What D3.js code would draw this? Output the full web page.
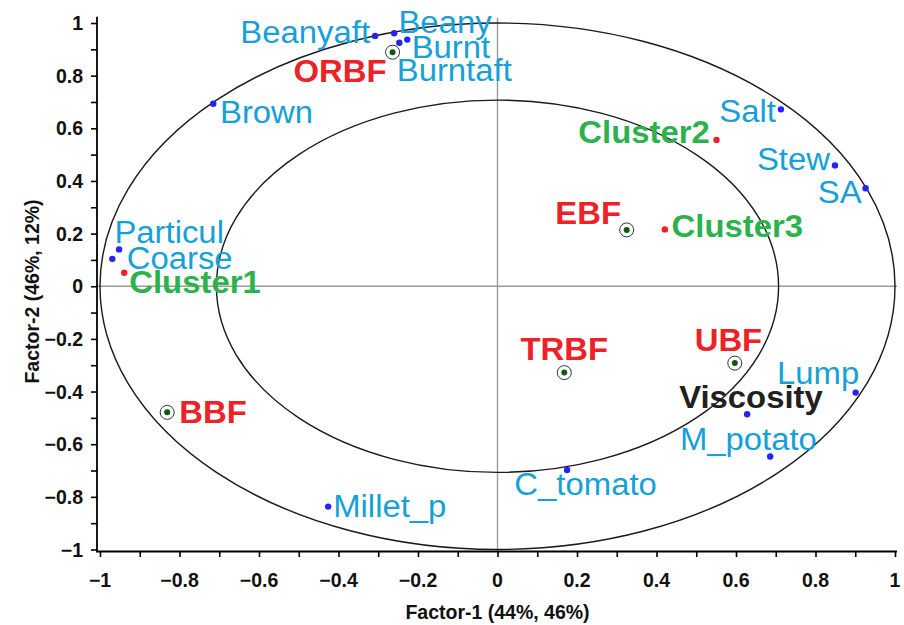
<!DOCTYPE html>
<html>
<head>
<meta charset="utf-8">
<script src="https://cdn.jsdelivr.net/npm/d3@7"></script>
<style>
  html, body { margin: 0; padding: 0; background: #fff; }
  svg { display: block; }
  text { font-family: "Liberation Sans", Arial, Helvetica, sans-serif; }
</style>
</head>
<body>
<svg id="chart" width="904" height="625"></svg>
<script>
// ---------------- data ----------------
const attributes = ["Brown","Particul","Coarse","Beanyaft","Beany","Burnt","Burntaft","Salt","Stew","SA","C_tomato","Millet_p","Viscosity","M_potato","Lump"];
const attrX = [-0.715,-0.952,-0.969,-0.308,-0.260,-0.227,-0.247,0.713,0.849,0.926,0.175,-0.426,0.628,0.686,0.901];
const attrY = [0.693,0.140,0.104,0.951,0.961,0.937,0.925,0.672,0.459,0.372,-0.698,-0.837,-0.486,-0.647,-0.404];

const samples = ["ORBF","EBF","TRBF","UBF","BBF"];
const sampleX = [-0.264,0.325,0.168,0.597,-0.831];
const sampleY = [0.889,0.214,-0.328,-0.292,-0.479];

const clusters = ["Cluster1","Cluster2","Cluster3"];
const clusterX = [-0.939,0.551,0.421];
const clusterY = [0.051,0.556,0.216];

const majorTicks = [-1,-0.8,-0.6,-0.4,-0.2,0,0.2,0.4,0.6,0.8,1];
const minorTicks = [-0.9,-0.7,-0.5,-0.3,-0.1,0.1,0.3,0.5,0.7,0.9];
const circleRadii = [1, Math.SQRT1_2];

const xTitle = "Factor-1 (44%, 46%)";
const yTitle = "Factor-2 (46%, 12%)";

// ---------------- layout (label placement, px) ----------------
const labelLayout = {
  Brown:    {dx: 6.7,  dy: 19.6, anchor: "start"},
  Particul: {dx: -4.7, dy: -6,   anchor: "start"},
  Coarse:   {dx: 14.4, dy: 10.3, anchor: "start"},
  Beanyaft: {dx: -5,   dy: 7,    anchor: "end"},
  Beany:    {dx: 4.3,  dy: 0,    anchor: "start"},
  Burnt:    {dx: 4.4,  dy: 18.6, anchor: "start"},
  Burntaft: {dx: -2.6, dy: 38.3, anchor: "start"},
  Salt:     {dx: -5,   dy: 12.4, anchor: "end"},
  Stew:     {dx: -5,   dy: 4.7,  anchor: "end"},
  SA:       {dx: -4,   dy: 15,   anchor: "end"},
  C_tomato: {dx: -52.7,dy: 25,   anchor: "start"},
  Millet_p: {dx: 5,    dy: 10.6, anchor: "start"},
  Viscosity:{dx: -68,  dy: -6,   anchor: "start"},
  M_potato: {dx: -90.3,dy: -6.7, anchor: "start"},
  Lump:     {dx: 3.6,  dy: -8.7, anchor: "end"},
  ORBF:     {dx: -6,   dy: 29.4, anchor: "end"},
  EBF:      {dx: -5.7, dy: -6,   anchor: "end"},
  TRBF:     {dx: 0,    dy: -12.7,anchor: "middle"},
  UBF:      {dx: -6.4, dy: -12.3,anchor: "middle"},
  BBF:      {dx: 12,   dy: 10.4, anchor: "start"},
  Cluster1: {dx: 5,    dy: 20.6, anchor: "start"},
  Cluster2: {dx: -6.7, dy: 3.3,  anchor: "end"},
  Cluster3: {dx: 6.7,  dy: 7.4,  anchor: "start"}
};
const labelFont = 31;
const labelStretch = 1.06;

// ---------------- scales ----------------
const svg = d3.select("#chart");
const x = d3.scaleLinear().domain([-1, 1]).range([100, 895]);
const y = d3.scaleLinear().domain([-1, 1]).range([549.5, 23]);
const axisX0 = 97;     // y-axis line position
const axisY0 = 551.5;  // x-axis line position
const fmt = d3.format("~g");

const colBlueDot = "#2323f5";
const colBlueTxt = "#16a0d8";
const colRed = "#ec2227";
const colGreen = "#2bb24c";
const colDark = "#231f20";

// grey zero lines
svg.append("line").attr("x1", axisX0).attr("x2", x(1.005)).attr("y1", y(0)).attr("y2", y(0))
  .attr("stroke", "#9a9a9a").attr("stroke-width", 1.4);
svg.append("line").attr("x1", x(0)).attr("x2", x(0)).attr("y1", y(1.02)).attr("y2", axisY0)
  .attr("stroke", "#9a9a9a").attr("stroke-width", 1.4);

// correlation circles (ellipses in pixel space)
svg.selectAll("ellipse.cc").data(circleRadii).join("ellipse")
  .attr("class", "cc")
  .attr("cx", x(0)).attr("cy", y(0))
  .attr("rx", r => x(r) - x(0)).attr("ry", r => y(0) - y(r))
  .attr("fill", "none").attr("stroke", "#1a1a1a").attr("stroke-width", 1.4);

// axes
const gx = svg.append("g").attr("transform", `translate(0,${axisY0})`);
gx.call(d3.axisBottom(x).tickValues(majorTicks.concat(minorTicks)).tickSize(5.5).tickFormat(""));
gx.select(".domain").remove();
gx.selectAll(".tick line").attr("stroke", "#000").attr("stroke-width", 1.6);
gx.selectAll("text.lbl").data(majorTicks).join("text").attr("class", "lbl")
  .attr("x", d => x(d)).attr("y", 586.5 - axisY0)
  .attr("text-anchor", "middle").attr("font-size", 19.5).attr("font-weight", "bold").attr("fill", "#111")
  .text(d => fmt(d));

const gy = svg.append("g").attr("transform", `translate(${axisX0},0)`);
gy.call(d3.axisLeft(y).tickValues(majorTicks.concat(minorTicks)).tickSize(6).tickFormat(""));
gy.select(".domain").remove();
gy.selectAll(".tick line").attr("stroke", "#000").attr("stroke-width", 1.6);
gy.selectAll("text.lbl").data(majorTicks).join("text").attr("class", "lbl")
  .attr("x", -14).attr("y", d => y(d)).attr("dy", "0.36em")
  .attr("text-anchor", "end").attr("font-size", 19.5).attr("font-weight", "bold").attr("fill", "#111")
  .text(d => fmt(d));

// axis lines
svg.append("line").attr("x1", axisX0 - 0.8).attr("x2", x(1.005)).attr("y1", axisY0).attr("y2", axisY0)
  .attr("stroke", "#000").attr("stroke-width", 1.8);
svg.append("line").attr("x1", axisX0).attr("x2", axisX0).attr("y1", y(1.024)).attr("y2", axisY0 + 0.8)
  .attr("stroke", "#000").attr("stroke-width", 1.8);

// axis titles
svg.append("text").attr("x", x(0)).attr("y", 619)
  .attr("text-anchor", "middle").attr("font-size", 19.5).attr("font-weight", "bold").attr("fill", "#111")
  .text(xTitle);
svg.append("text").attr("transform", `translate(39,${y(-0.02)}) rotate(-90)`)
  .attr("text-anchor", "middle").attr("font-size", 19.5).attr("font-weight", "bold").attr("fill", "#111")
  .text(yTitle);

// build point records
const attrData = attributes.map((n, i) => ({name: n, x: attrX[i], y: attrY[i]}));
const sampleData = samples.map((n, i) => ({name: n, x: sampleX[i], y: sampleY[i]}));
const clusterData = clusters.map((n, i) => ({name: n, x: clusterX[i], y: clusterY[i]}));

// attribute points
svg.selectAll("circle.attr").data(attrData).join("circle").attr("class", "attr")
  .attr("cx", d => x(d.x)).attr("cy", d => y(d.y)).attr("r", 3.2).attr("fill", colBlueDot);

// cluster points
svg.selectAll("circle.clu").data(clusterData).join("circle").attr("class", "clu")
  .attr("cx", d => x(d.x)).attr("cy", d => y(d.y)).attr("r", 3.2).attr("fill", colRed);

// sample points (ringed)
const sg = svg.selectAll("g.smp").data(sampleData).join("g").attr("class", "smp")
  .attr("transform", d => `translate(${x(d.x)},${y(d.y)})`);
sg.append("circle").attr("r", 7).attr("fill", "#fff").attr("stroke", "#333").attr("stroke-width", 1);
sg.append("circle").attr("r", 3).attr("fill", "#0b5a10");

// labels
function addLabels(data, color, weight) {
  svg.selectAll(null).data(data).join("text")
    .attr("transform", d => `translate(${x(d.x) + labelLayout[d.name].dx},${y(d.y) + labelLayout[d.name].dy}) scale(${labelStretch},1)`)
    .attr("text-anchor", d => labelLayout[d.name].anchor)
    .attr("font-size", labelFont).attr("font-weight", weight).attr("fill", color)
    .text(d => d.name);
}
addLabels(attrData.filter(d => d.name !== "Viscosity"), colBlueTxt, "normal");
addLabels(attrData.filter(d => d.name === "Viscosity"), colDark, "bold");
addLabels(sampleData, colRed, "bold");
addLabels(clusterData, colGreen, "bold");
</script>
</body>
</html>
